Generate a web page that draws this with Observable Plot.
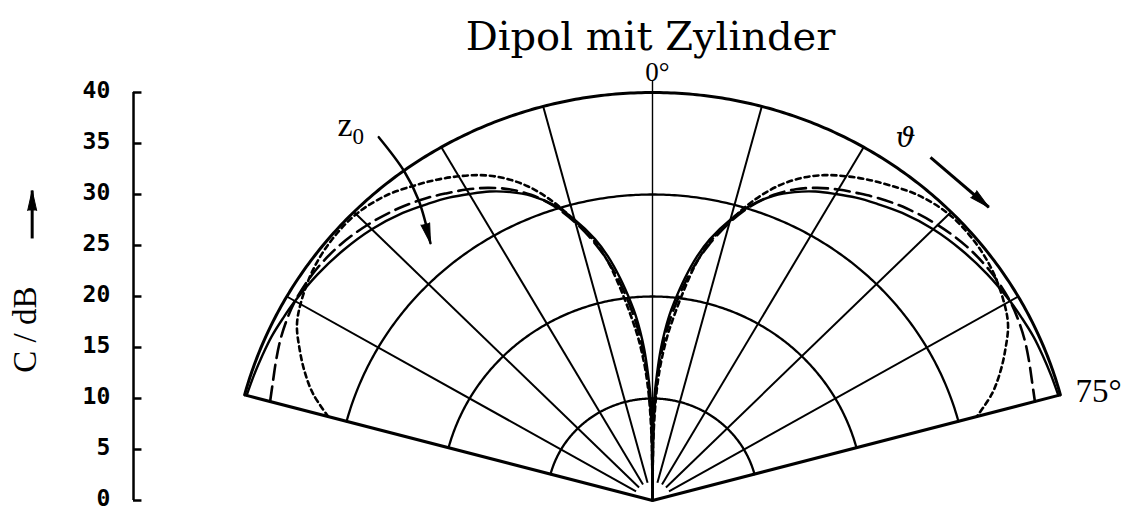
<!DOCTYPE html>
<html>
<head>
<meta charset="utf-8">
<script src="https://cdn.jsdelivr.net/npm/d3@7"></script>
<script src="https://cdn.jsdelivr.net/npm/@observablehq/plot@0.6"></script>
<style>
  body { margin: 0; background: #fff; }
  svg { display: block; }
</style>
</head>
<body>
<div id="chart"></div>
<script>
// Angles ϑ (degrees from broadside) at which the patterns are given; the left half is the mirror image.
const angles   = [0, 0.5, 1, 2, 3, 4, 5, 6, 8, 10, 12, 15, 18, 21, 24, 27, 30, 33, 36, 40, 45, 50, 55, 60, 63, 66, 69, 72, 75];
// C in dB for three cylinder positions z0 (solid, long dash, short dash)
const solidDb  = [0, 6, 10, 12.5, 14.8, 16.6, 18.2, 19.5, 22, 24.3, 26.2, 28.5, 30.5, 32, 33.1, 34, 34.7, 35.4, 36, 36.8, 37.6, 38.2, 38.7, 39.1, 39.3, 39.5, 39.6, 39.7, 39.8];
const dashedDb = [0, 5, 8.5, 11.5, 13.8, 15.7, 17.3, 18.7, 21.3, 23.6, 25.6, 28.2, 30.4, 32.1, 33.4, 34.4, 35.2, 35.9, 36.6, 37.4, 38.2, 38.8, 39.1, 39.1, 38.9, 38.6, 38.2, 37.8, 37.5];
const dottedDb = [0, 4, 7, 10.5, 12.8, 14.6, 16.2, 17.6, 20.5, 23.5, 25.8, 28.4, 30.9, 33.0, 34.6, 35.8, 36.7, 37.5, 38.2, 39.1, 39.7, 39.7, 39.3, 38.5, 37.8, 36.6, 35.3, 33.8, 31.8];

// Scale of the C / dB axis and the polar grid
const yTicks      = [0, 5, 10, 15, 20, 25, 30, 35, 40];
const gridRadii   = [10, 20, 30];
const outerRadius = 40;
const spokeAngles = [-60, -45, -30, -15, 15, 30, 45, 60];
const edgeAngles  = [-75, 75];
const sectorSpan  = 75;

// Layout
const W = 1122, H = 511;
const cx = 652, cy = 500;          // pole of the diagram, px
const kx = 10.557, ky = 10.2;      // px per dB
const axisX = -49.16;              // C / dB axis position (dB units)
const tickLen = 0.8;

const rad = d => d * Math.PI / 180;
const polar = (theta, r) => ({x: r * Math.sin(rad(theta)), y: r * Math.cos(rad(theta))});

function pattern(values, name) {
  const right = angles.map((a, i) => ({...polar(a, values[i]), name}));
  const left = angles.slice(1).map((a, i) => ({...polar(-a, values[i + 1]), name})).reverse();
  return [...left, ...right];
}

function arc(r) {
  const pts = [];
  for (let t = -sectorSpan; t <= sectorSpan + 1e-9; t += 0.5) pts.push({...polar(t, r), r});
  return pts;
}

const innerArcs = gridRadii.flatMap(arc);
const outerArc = arc(outerRadius);
const spokes = spokeAngles.map(a => {
  const p = polar(a, 1.8), q = polar(a, outerRadius);
  return {x1: p.x, y1: p.y, x2: q.x, y2: q.y};
});
const edges = edgeAngles.map(a => {
  const q = polar(a, outerRadius);
  return {x1: 0, y1: 0, x2: q.x, y2: q.y};
});
const axis0 = [{x1: 0, y1: 0, x2: 0, y2: 41.2}];

// Annotation positions (dB units)
const zArrow = [{x: -25.93, y: 35.62}, {x: -23.56, y: 32.35}, {x: -22.14, y: 29.41}, {x: -21.03, y: 25.23}];
const thetaArrow = [{x1: 26.33, y1: 33.63, x2: 31.86, y2: 28.75}];
const axisArrow = [{x1: -58.76, y1: 25.69, x2: -58.76, y2: 30.39}];
const heads = [
  {x: -21.03, y: 25.23, rotate: 165},
  {x: 31.86, y: 28.75, rotate: 131},
  {x: -58.76, y: 30.39, rotate: 0}
];

const chart = Plot.plot({
  width: W,
  height: H,
  margin: 0,
  style: {background: "#fff", color: "#000"},
  x: {domain: [-cx / kx, (W - cx) / kx], range: [0, W], axis: null},
  y: {domain: [(cy - H) / ky, cy / ky], range: [H, 0], axis: null},
  marks: [
    // polar grid
    Plot.line(innerArcs, {x: "x", y: "y", z: "r", stroke: "#000", strokeWidth: 2.3}),
    Plot.link(spokes, {x1: "x1", y1: "y1", x2: "x2", y2: "y2", stroke: "#000", strokeWidth: 2}),
    Plot.link(axis0, {x1: "x1", y1: "y1", x2: "x2", y2: "y2", stroke: "#000", strokeWidth: 1.4}),
    Plot.link(edges, {x1: "x1", y1: "y1", x2: "x2", y2: "y2", stroke: "#000", strokeWidth: 3}),
    Plot.line(outerArc, {x: "x", y: "y", stroke: "#000", strokeWidth: 3}),

    // patterns
    Plot.line(pattern(solidDb, "solid"), {x: "x", y: "y", stroke: "#000", strokeWidth: 2.4, curve: "catmull-rom"}),
    Plot.line(pattern(dashedDb, "dashed"), {x: "x", y: "y", stroke: "#000", strokeWidth: 2.6, strokeDasharray: "15,7", curve: "catmull-rom"}),
    Plot.line(pattern(dottedDb, "dotted"), {x: "x", y: "y", stroke: "#000", strokeWidth: 2.6, strokeDasharray: "5,4", curve: "catmull-rom"}),

    // C / dB axis
    Plot.ruleX([axisX], {y1: 0, y2: 40, stroke: "#000", strokeWidth: 2.5}),
    Plot.ruleY(yTicks, {y: d => d, x1: axisX, x2: axisX + tickLen, stroke: "#000", strokeWidth: 2.5}),
    Plot.text(yTicks, {x: axisX - 2.2, y: d => d, dy: -2, text: d => String(d), textAnchor: "end",
      fontFamily: "DejaVu Sans Mono", fontWeight: "bold", fontSize: 23}),
    Plot.text(["C / dB"], {x: -59.39, y: 16.76, text: d => d, rotate: -90,
      fontFamily: "Liberation Serif", fontSize: 33}),

    // arrows
    Plot.line(zArrow, {x: "x", y: "y", stroke: "#000", strokeWidth: 2.5, curve: "catmull-rom"}),
    Plot.link(thetaArrow, {x1: "x1", y1: "y1", x2: "x2", y2: "y2", stroke: "#000", strokeWidth: 3}),
    Plot.link(axisArrow, {x1: "x1", y1: "y1", x2: "x2", y2: "y2", stroke: "#000", strokeWidth: 3}),
    Plot.vector(heads, {x: "x", y: "y", rotate: "rotate", length: 20, r: 4.5, shape: "spike",
      anchor: "end", fill: "#000", stroke: "#000", strokeWidth: 1}),

    // labels
    Plot.text(["Dipol mit Zylinder"], {x: -0.19, y: 44.12, text: d => d, lineAnchor: "bottom",
      fontFamily: "DejaVu Serif", fontSize: 40}),
    Plot.text(["0°"], {x: 0.47, y: 41.08, text: d => d, lineAnchor: "bottom",
      fontFamily: "Liberation Serif", fontSize: 27}),
    Plot.text(["75°"], {x: 40.07, y: 9.61, text: d => d, lineAnchor: "bottom", textAnchor: "start",
      fontFamily: "Liberation Serif", fontSize: 33}),
    Plot.text(["z"], {x: -29.84, y: 35.78, text: d => d, lineAnchor: "bottom", textAnchor: "start",
      fontFamily: "Liberation Serif", fontSize: 34}),
    Plot.text(["0"], {x: -28.42, y: 35.0, text: d => d, lineAnchor: "bottom", textAnchor: "start",
      fontFamily: "Liberation Serif", fontSize: 23}),
    Plot.text(["ϑ"], {x: 23.02, y: 34.61, text: d => d, lineAnchor: "bottom", textAnchor: "start",
      fontFamily: "DejaVu Serif", fontStyle: "italic", fontSize: 28})
  ]
});

document.getElementById("chart").append(chart);
</script>
</body>
</html>
